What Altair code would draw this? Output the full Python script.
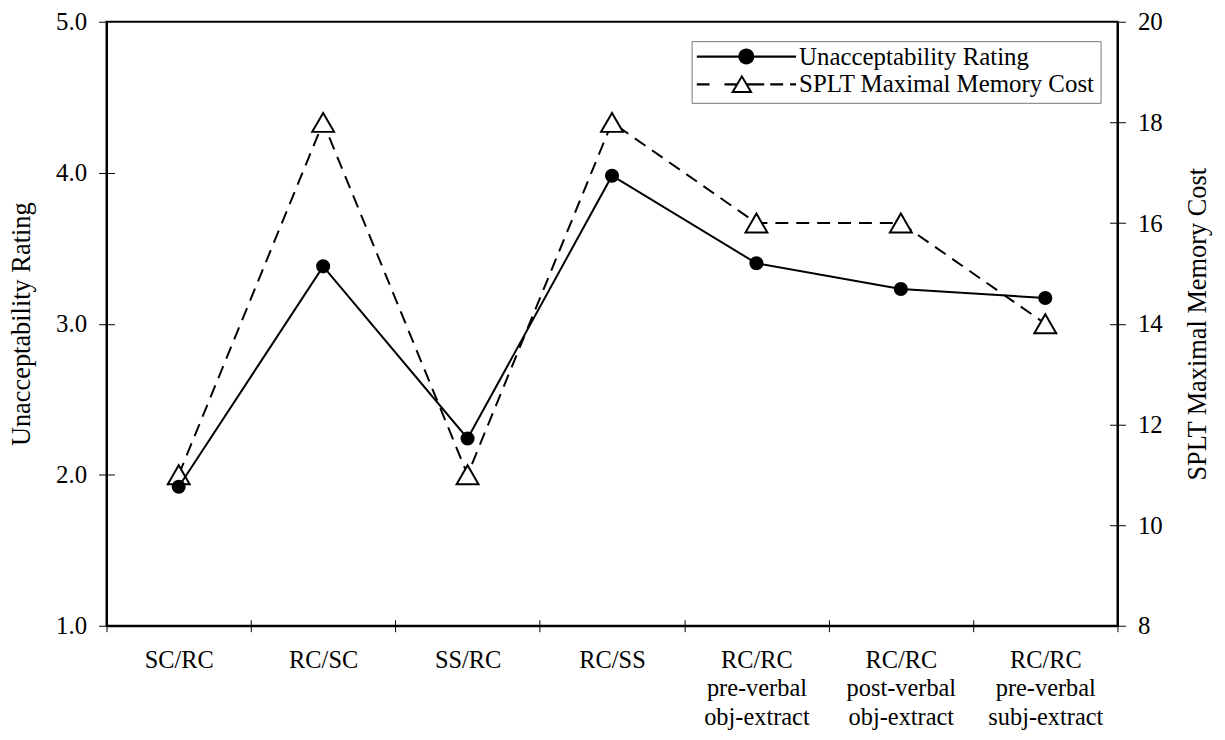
import altair as alt
import pandas as pd

# ---- data ----
categories = [
    "SC/RC",
    "RC/SC",
    "SS/RC",
    "RC/SS",
    "RC/RC\npre-verbal\nobj-extract",
    "RC/RC\npost-verbal\nobj-extract",
    "RC/RC\npre-verbal\nsubj-extract",
]
rating = [1.92, 3.38, 2.24, 3.98, 3.40, 3.23, 3.17]
splt = [11, 18, 11, 18, 16, 16, 14]
series_names = ["Unacceptability Rating", "SPLT Maximal Memory Cost"]
left_ticks = [1, 2, 3, 4, 5]
right_ticks = [8, 10, 12, 14, 16, 18, 20]
left_inner = [2, 3, 4]
right_inner = [10, 12, 14, 16, 18]

df = pd.DataFrame({"cond": categories, "rating": rating, "splt": splt})
legend_df = pd.DataFrame({"series": series_names})

FONT = "Liberation Serif"
W, H = 1016, 607


def bar(x1, x2, h=0.022):
    return f"M{x1},{-h}L{x2},{-h}L{x2},{h}L{x1},{h}Z"


# legend symbols (unit path, drawn filled): line + filled circle,
# dashed line + open triangle (ring)
circle_sym = bar(-1, 1) + "M-0.16,0A0.16,0.16,0,1,1,0.16,0A0.16,0.16,0,1,1,-0.16,0Z"
cx = -0.09
tri_outer = f"M{cx},-0.2L{cx + 0.22},0.17L{cx - 0.22},0.17Z"
tri_inner = f"M{cx},-0.1216L{cx - 0.1496},0.13L{cx + 0.1496},0.13Z"
tri_sym = (bar(-1, -0.74) + bar(-0.44, cx - 0.1) + bar(cx + 0.1, 0.36)
           + bar(0.48, 0.74) + bar(0.88, 1) + tri_outer + tri_inner)

axis_common = dict(
    labelFont=FONT,
    labelColor="black",
    domainColor="black",
    domainWidth=2,
    tickColor="black",
    tickWidth=1,
    grid=False,
)
inner_common = dict(
    title=None, labels=False, domain=False, grid=False,
    tickColor="black", tickWidth=1,
)

x_scale = alt.Scale(type="band", paddingInner=0, paddingOuter=0)

x_main = alt.X(
    "cond:N",
    sort=categories,
    scale=x_scale,
    axis=alt.Axis(
        orient="bottom",
        title=None,
        labelExpr="isValid(datum.value) ? split(datum.value, '\\n') : ''",
        labelAngle=0,
        tickBand="extent",
        tickSize=6,
        labelPadding=17,
        labelLineHeight=28.5,
        labelFontSize=24.5,
        labelOverlap=False,
        labelLimit=250,
        **axis_common,
    ),
)
# inward half of the crossing ticks on the bottom axis
x_inner = alt.X(
    "cond:N",
    sort=categories,
    scale=x_scale,
    axis=alt.Axis(orient="top", offset=-H, tickBand="extent", tickSize=6,
                  **inner_common),
)

title_common = dict(
    titleY=H / 2,
    titleAngle=270,
    titleBaseline="middle",
    titleAlign="center",
    titleFont=FONT,
    titleFontSize=26.5,
    titleFontWeight="normal",
    titleColor="black",
    tickSize=8,
    labelPadding=12,
    labelFontSize=25,
)

left_scale = alt.Scale(domain=[1, 5], nice=False, zero=False)
right_scale = alt.Scale(domain=[8, 20], nice=False, zero=False)

y_left = alt.Y(
    "rating:Q",
    scale=left_scale,
    axis=alt.Axis(
        orient="left",
        values=left_ticks,
        format=".1f",
        title="Unacceptability Rating",
        titleX=-85,
        **title_common,
        **axis_common,
    ),
)
y_left_inner = alt.Y(
    "rating:Q",
    scale=left_scale,
    axis=alt.Axis(orient="right", offset=-W, values=left_inner, tickSize=8,
                  **inner_common),
)

y_right = alt.Y(
    "splt:Q",
    scale=right_scale,
    axis=alt.Axis(
        orient="right",
        values=right_ticks,
        format="d",
        title="SPLT Maximal Memory Cost",
        titleX=80,
        **title_common,
        **axis_common,
    ),
)
y_right_inner = alt.Y(
    "splt:Q",
    scale=right_scale,
    axis=alt.Axis(orient="left", offset=-W, values=right_inner, tickSize=8,
                  **inner_common),
)

base = alt.Chart(df)

dash_line = base.mark_line(color="black", strokeWidth=2, strokeDash=[13, 8]).encode(
    x=x_main, y=y_right
)
triangles = base.mark_point(
    shape="triangle-up", size=484, filled=True, fill="white",
    stroke="black", strokeWidth=2, opacity=1
).encode(x=x_inner, y=y_right_inner)
layer_b = alt.layer(dash_line, triangles)

solid_line = base.mark_line(color="black", strokeWidth=2).encode(x=x_main, y=y_left)
circles = base.mark_point(
    shape="circle", size=200, filled=True, color="black", opacity=1
).encode(x=x_inner, y=y_left_inner)
layer_a = alt.layer(solid_line, circles)

legend_layer = (
    alt.Chart(legend_df)
    .transform_filter("false")
    .mark_point(filled=True, fill="black", opacity=1)
    .encode(
        shape=alt.Shape(
            "series:N",
            scale=alt.Scale(domain=series_names, range=[circle_sym, tri_sym]),
            legend=alt.Legend(
                title=None,
                orient="none",
                legendX=588,
                legendY=19.5,
                symbolSize=10000,
                symbolStrokeWidth=0,
                symbolFillColor="black",
                symbolOpacity=1,
                labelFont=FONT,
                labelFontSize=25,
                labelColor="black",
                labelOffset=3,
                labelLimit=400,
                clipHeight=21,
                rowPadding=2,
                padding=5,
                strokeColor="#777777",
                fillColor="white",
            ),
        )
    )
)

chart = (
    alt.layer(layer_b, layer_a, legend_layer)
    .resolve_scale(y="independent")
    .properties(
        width=W,
        height=H,
        padding={"left": 99, "top": 12, "right": 100, "bottom": 105},
        autosize=alt.AutoSizeParams(type="none"),
        background="white",
    )
    .configure_view(stroke="black", strokeWidth=2)
)

chart.save("out.html", embed_options={"renderer": "svg", "actions": False})
